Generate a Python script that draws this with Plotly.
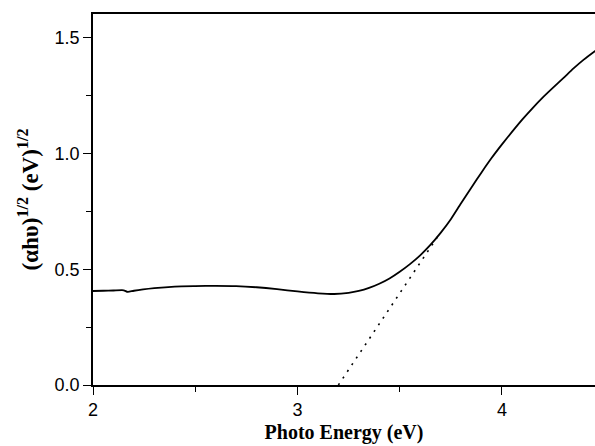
import plotly.graph_objects as go

energy = [2.00, 2.05, 2.10, 2.15, 2.17, 2.20, 2.30, 2.40, 2.50, 2.60, 2.70, 2.80, 2.90,
          3.00, 3.10, 3.18, 3.25, 3.30, 3.35, 3.40, 3.45, 3.50, 3.55, 3.60, 3.65,
          3.70, 3.75, 3.80, 3.85, 3.90, 3.95, 4.00, 4.05, 4.10, 4.15, 4.20, 4.25,
          4.30, 4.35, 4.40, 4.46]
signal = [0.406, 0.407, 0.408, 0.409, 0.402, 0.407, 0.418, 0.425, 0.427, 0.428, 0.427,
          0.422, 0.414, 0.404, 0.396, 0.393, 0.398, 0.406, 0.419, 0.437, 0.460, 0.489,
          0.522, 0.560, 0.605, 0.657, 0.716, 0.785, 0.852, 0.918, 0.981, 1.039, 1.094,
          1.147, 1.196, 1.242, 1.284, 1.325, 1.367, 1.405, 1.445]

tangent_x = [3.20, 3.70]
tangent_y = [0.00, 0.66]

x_ticks = [2, 3, 4]
y_ticks = [0.0, 0.5, 1.0, 1.5]
y_tick_labels = ["0.0", "0.5", "1.0", "1.5"]

fig = go.Figure()
fig.add_trace(go.Scatter(x=tangent_x, y=tangent_y, mode="lines",
                         line=dict(color="black", width=1.6, dash="2px,6px"),
                         showlegend=False))
fig.add_trace(go.Scatter(x=energy, y=signal, mode="lines",
                         line=dict(color="black", width=1.8, shape="spline", smoothing=0.6),
                         showlegend=False))

fig.update_layout(
    width=595, height=446,
    margin=dict(l=93, r=0, t=14, b=61),
    plot_bgcolor="white", paper_bgcolor="white",
    font=dict(family="Liberation Sans, Arial", size=18, color="black"),
    xaxis=dict(
        range=[2, 4.455], tickvals=x_ticks, ticks="outside", ticklen=8, tickwidth=1.2,
        tickcolor="black", showline=True, linecolor="black", linewidth=1.5, mirror=True,
        showgrid=False, zeroline=False,
        minor=dict(tickvals=[2.5, 3.5], ticks="outside", ticklen=5, tickwidth=1.2, tickcolor="black"),
        title=dict(text="<b>Photo Energy (eV)</b>", standoff=6,
                   font=dict(family="Liberation Serif, Times New Roman", size=20)),
    ),
    yaxis=dict(
        range=[0, 1.602], tickvals=y_ticks, ticktext=y_tick_labels, ticks="outside", ticklen=8,
        tickwidth=1.2, tickcolor="black", showline=True, linecolor="black", linewidth=1.5,
        mirror=False, showgrid=False, zeroline=False,
        minor=dict(tickvals=[0.25, 0.75, 1.25], ticks="outside", ticklen=5, tickwidth=1.2, tickcolor="black"),
        title=dict(text="<b>(αhυ)<sup>1/2</sup> (eV)<sup>1/2</sup></b>", standoff=10,
                   font=dict(family="Liberation Serif, Times New Roman", size=23)),
    ),
)

fig.write_html("out.html", config={"displayModeBar": False},
               post_script="document.body.style.margin='0';document.body.style.overflow='hidden';")
